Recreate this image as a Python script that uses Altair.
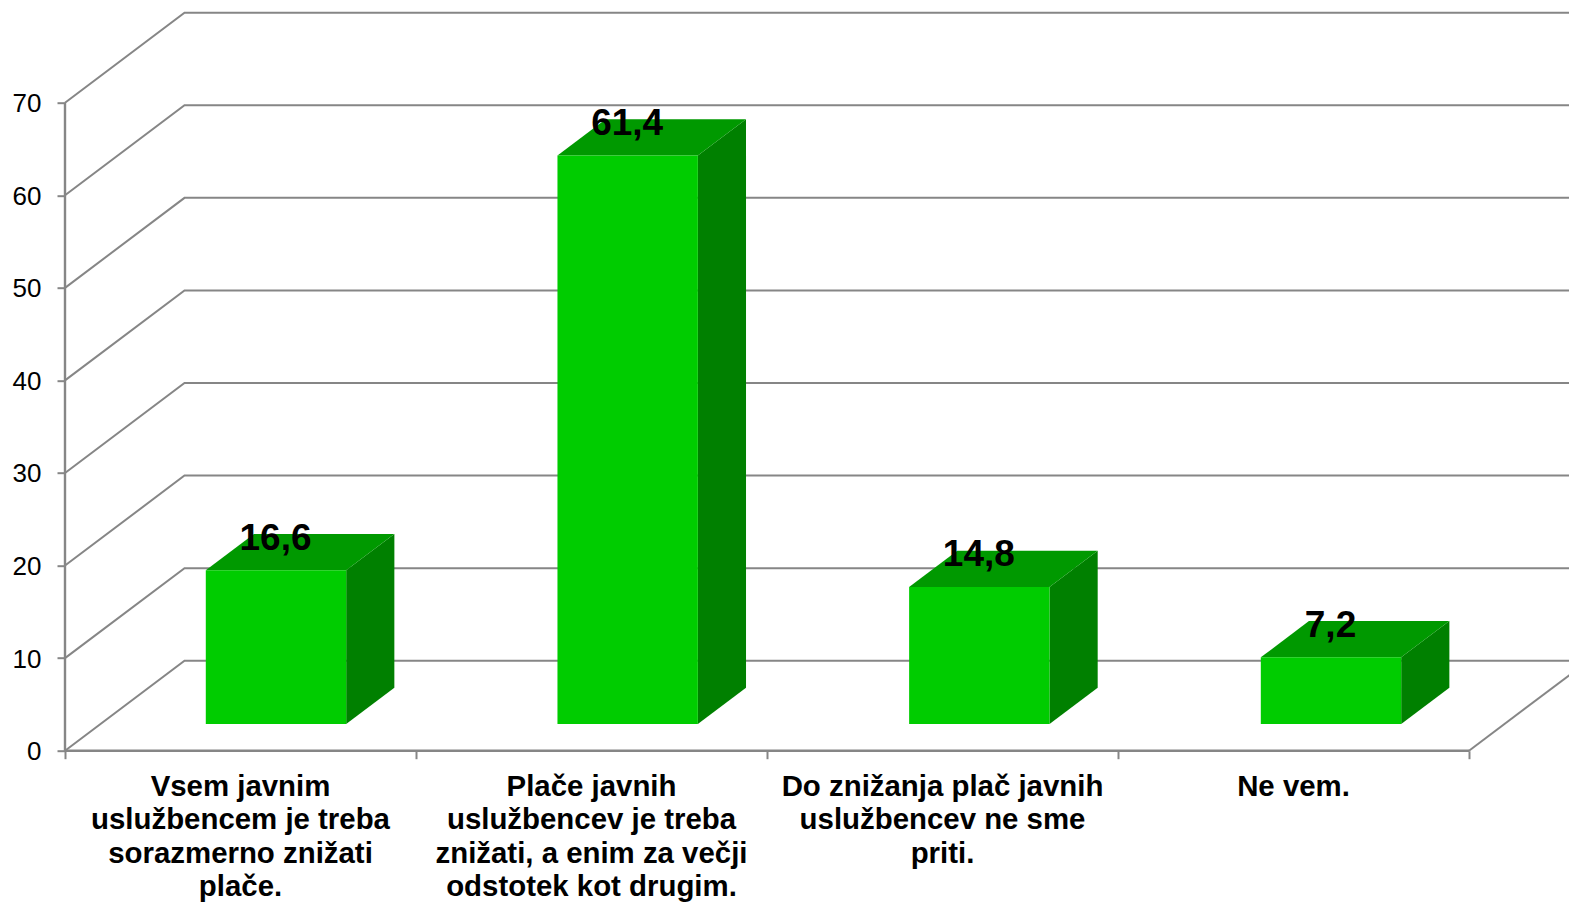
import altair as alt
import pandas as pd

categories = [
    "Vsem javnim\nuslužbencem je treba\nsorazmerno znižati\nplače.",
    "Plače javnih\nuslužbencev je treba\nznižati, a enim za večji\nodstotek kot drugim.",
    "Do znižanja plač javnih\nuslužbencev ne sme\npriti.",
    "Ne vem.",
]
values = [16.6, 61.4, 14.8, 7.2]
value_labels = ["16,6", "61,4", "14,8", "7,2"]
y_ticks = [0, 10, 20, 30, 40, 50, 60, 70]
x_ticks = [0, 1, 2, 3, 4]

# oblique projection of the 3-D box, in axis units
CAT_PX = 351.0
UNIT_PX = 9.257
DEPTH_X = 119.5 / CAT_PX
DEPTH_Y = 90.0 / UNIT_PX
BAR_START, BAR_END = 0.3, 0.7
BAR_STEP = 351.67 / CAT_PX
Z_FRONT, Z_BACK = 0.297, 0.70

WIDTH, HEIGHT = 1504, 738
X_DOMAIN = [0, WIDTH / CAT_PX]
Y_DOMAIN = [0, HEIGHT / UNIT_PX]

GREY = "#868686"
FRONT, TOP, SIDE = "#00cc00", "#009900", "#008000"
FONT = "Liberation Sans"


def px(cat, z):
    return cat + z * DEPTH_X


def py(val, z):
    return val + z * DEPTH_Y


x_scale = alt.Scale(domain=X_DOMAIN, nice=False, zero=False)
y_scale = alt.Scale(domain=Y_DOMAIN, nice=False, zero=False)
X = alt.X("x:Q", scale=x_scale, title=None, stack=None,
          axis=alt.Axis(values=x_ticks, labels=False, domain=False, grid=False,
                        tickColor=GREY, tickSize=8, tickWidth=2))
Y = alt.Y("y:Q", scale=y_scale, title=None, stack=None,
          axis=alt.Axis(values=y_ticks, domain=False, grid=False, format="d",
                        labelFont=FONT, labelFontSize=26, labelColor="#000000",
                        labelPadding=16, labelOffset=1,
                        tickColor=GREY, tickSize=8, tickWidth=2))

# wall / floor lines
grid_rows = []
for v in y_ticks:
    grid_rows += [
        {"id": v, "o": 0, "x": px(0, 0), "y": py(v, 0)},
        {"id": v, "o": 1, "x": px(0, 1), "y": py(v, 1)},
        {"id": v, "o": 2, "x": px(4, 1), "y": py(v, 1)},
    ]
grid_rows += [
    {"id": -1, "o": 0, "x": px(4, 0), "y": py(0, 0)},
    {"id": -1, "o": 1, "x": px(4, 1), "y": py(0, 1)},
]
frame_rows = [
    {"id": "y", "o": 0, "x": 0, "y": y_ticks[0]},
    {"id": "y", "o": 1, "x": 0, "y": y_ticks[-1]},
    {"id": "x", "o": 0, "x": x_ticks[0], "y": 0},
    {"id": "x", "o": 1, "x": x_ticks[-1], "y": 0},
]

side_rows, front_rows, label_rows, cat_rows = [], [], [], []
top_layers = []
for i, (v, lab, cat) in enumerate(zip(values, value_labels, categories)):
    a, b = i * BAR_STEP + BAR_START, i * BAR_STEP + BAR_END
    top_rows = []
    for z in (Z_FRONT, Z_BACK):
        side_rows.append({"id": i, "x": px(b, z), "y": py(0, z), "y2": py(v, z)})
        top_rows.append({"y": py(v, z), "x": px(a, z), "x2": px(b, z)})
    top_layers.append(
        alt.Chart(pd.DataFrame(top_rows)).mark_area(fill=TOP, orient="horizontal").encode(
            y=Y, x=X, x2="x2:Q")
    )
    front_rows.append({"x": px(a, Z_FRONT), "x2": px(b, Z_FRONT),
                       "y": py(0, Z_FRONT), "y2": py(v, Z_FRONT)})
    label_rows.append({"x": px((a + b) / 2, Z_FRONT), "y": py(v, Z_FRONT), "t": lab})
    cat_rows.append({"x": i + 0.5, "y": 0, "t": cat})

grid = alt.Chart(pd.DataFrame(grid_rows)).mark_line(color=GREY, strokeWidth=2).encode(
    x=X, y=Y, detail="id:N", order="o:Q")
frame = alt.Chart(pd.DataFrame(frame_rows)).mark_line(color=GREY, strokeWidth=2.4).encode(
    x=X, y=Y, detail="id:N", order="o:Q")
side = alt.Chart(pd.DataFrame(side_rows)).mark_area(fill=SIDE, orient="vertical").encode(
    x=X, y=Y, y2="y2:Q", detail="id:N")
front = alt.Chart(pd.DataFrame(front_rows)).mark_rect(color=FRONT).encode(
    x=X, x2="x2:Q", y=Y, y2="y2:Q")
val_text = alt.Chart(pd.DataFrame(label_rows)).mark_text(
    font=FONT, fontSize=37, fontWeight="bold", color="#000000", baseline="middle",
    dy=-31.5, dx=-0.5
).encode(x=X, y=Y, text="t:N")
cat_text = alt.Chart(pd.DataFrame(cat_rows)).mark_text(
    font=FONT, fontSize=29.4, fontWeight="bold", color="#000000", baseline="top",
    align="center", lineBreak="\n", lineHeight=33.6, dy=22
).encode(x=X, y=Y, text="t:N")

chart = alt.layer(grid, frame, side, *top_layers, front, val_text, cat_text).properties(
    width=WIDTH, height=HEIGHT,
    autosize=alt.AutoSizeParams(type="none"),
    padding={"left": 57, "top": 4.7, "right": 0, "bottom": 151.3},
    background="#ffffff",
).configure_view(stroke=None)

chart.save("out.html", embed_options={"renderer": "svg", "actions": False})
